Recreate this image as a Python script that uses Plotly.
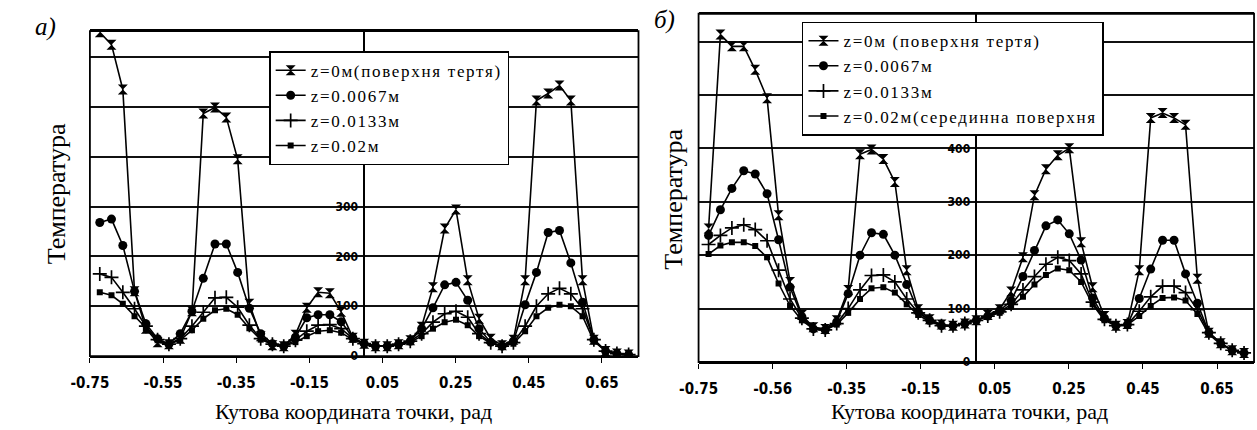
import plotly.graph_objects as go

W, H = 1257, 430

# angular coordinate of the points, rad
x_rad = [-0.723, -0.691, -0.660, -0.628, -0.597, -0.565, -0.534, -0.503, -0.471, -0.440,
         -0.408, -0.377, -0.346, -0.314, -0.283, -0.251, -0.220, -0.188, -0.157, -0.126,
         -0.094, -0.063, -0.031, 0.000, 0.031, 0.063, 0.094, 0.126, 0.157, 0.188,
         0.220, 0.251, 0.283, 0.314, 0.346, 0.377, 0.408, 0.440, 0.471, 0.503,
         0.534, 0.565, 0.597, 0.628, 0.660, 0.691, 0.723]

# chart а)
a_z0 = [650, 625, 535, 130, 55, 28, 24, 35, 90, 487, 499, 479, 395, 105, 40, 22, 20, 43, 97, 128,
        126, 89, 37, 25, 20, 20, 24, 32, 59, 138, 256, 294, 152, 75, 35, 22, 33, 152, 513, 527,
        543, 513, 152, 33, 10, 5, 3]
a_z1 = [268, 275, 222, 130, 65, 35, 24, 45, 90, 156, 225, 225, 168, 96, 45, 25, 20, 38, 77, 83,
        83, 69, 37, 25, 20, 20, 24, 30, 55, 97, 143, 148, 112, 55, 28, 20, 30, 103, 168, 248,
        252, 187, 108, 33, 10, 5, 3]
a_z2 = [165, 158, 128, 95, 60, 33, 24, 35, 60, 88, 117, 118, 98, 62, 35, 24, 20, 32, 50, 62,
        63, 55, 35, 25, 20, 20, 24, 30, 45, 68, 85, 90, 78, 45, 27, 20, 27, 60, 100, 125,
        136, 125, 95, 33, 10, 5, 3]
a_z3 = [128, 122, 105, 80, 55, 32, 24, 32, 52, 75, 92, 95, 83, 56, 33, 24, 20, 28, 40, 50,
        52, 47, 33, 25, 20, 20, 23, 28, 40, 55, 68, 73, 62, 40, 26, 20, 25, 50, 80, 97,
        103, 100, 80, 30, 10, 5, 3]

# chart б)
b_z0 = [250, 613, 591, 591, 547, 494, 275, 150, 88, 65, 62, 78, 135, 389, 398, 380, 337, 172, 99, 80,
        70, 68, 72, 78, 88, 99, 132, 196, 312, 361, 387, 400, 224, 140, 86, 68, 71, 172, 457, 466,
        457, 444, 156, 55, 35, 22, 17]
b_z1 = [237, 285, 325, 358, 352, 315, 229, 140, 85, 62, 60, 75, 128, 200, 242, 239, 200, 145, 95, 78,
        68, 68, 72, 78, 86, 96, 115, 160, 209, 255, 266, 240, 191, 120, 82, 68, 70, 119, 174, 228,
        228, 165, 110, 55, 35, 22, 17]
b_z2 = [220, 237, 251, 257, 248, 227, 172, 118, 82, 62, 60, 72, 100, 135, 162, 163, 150, 118, 92, 78,
        68, 68, 72, 78, 86, 94, 108, 135, 160, 183, 196, 190, 165, 112, 80, 68, 70, 95, 122, 142,
        142, 130, 98, 55, 35, 22, 17]
b_z3 = [202, 218, 224, 224, 217, 196, 147, 105, 78, 62, 60, 70, 92, 118, 138, 140, 130, 108, 88, 76,
        68, 68, 72, 78, 85, 92, 104, 122, 145, 163, 175, 172, 150, 108, 78, 68, 70, 86, 105, 120,
        121, 115, 90, 52, 33, 22, 17]

names_a = ["z=0м(поверхня тертя)", "z=0.0067м", "z=0.0133м", "z=0.02м"]
names_b = ["z=0м (поверхня тертя)", "z=0.0067м", "z=0.0133м", "z=0.02м(серединна поверхня"]

x_tickvals = [-0.75, -0.55, -0.35, -0.15, 0.05, 0.25, 0.45, 0.65]
x_ticktext_a = ["-0.75", "-0.55", "-0.35", "-0.15", "0.05", "0.25", "0.45", "0.65"]
x_ticktext_b = ["-0.75", "-0.56", "-0.35", "-0.15", "0.05", "0.25", "0.45", "0.65"]
y_tickvals = [0, 100, 200, 300, 400, 500, 600]
# labels 500 and 600 sit under the legend boxes in the reference (hidden)
y_ticktext_a = ["0", "100", "200", "300", "400", "", ""]
y_ticktext_b = ["0", "100", "200", "300", "400", "", ""]

x_title = "Кутова координата точки, рад"
y_title = "Температура"

markers = [
    dict(symbol="hourglass", size=10),
    dict(symbol="circle", size=9),
    dict(symbol="cross-thin", size=10, line=dict(width=1.7, color="black")),
    dict(symbol="square", size=6),
]

def spaced(t):
    return '<span style="letter-spacing:1.7px">' + t + '</span>'

fig = go.Figure()
for ys, nm, mk in zip([a_z0, a_z1, a_z2, a_z3], names_a, markers):
    fig.add_trace(go.Scatter(x=x_rad, y=ys, name=spaced(nm), mode="lines+markers",
                             line=dict(color="black", width=1.6),
                             marker=dict(color="black", **mk),
                             xaxis="x", yaxis="y", legend="legend"))
for ys, nm, mk in zip([b_z0, b_z1, b_z2, b_z3], names_b, markers):
    fig.add_trace(go.Scatter(x=x_rad, y=ys, name=spaced(nm), mode="lines+markers",
                             line=dict(color="black", width=1.6),
                             marker=dict(color="black", **mk),
                             xaxis="x2", yaxis="y2", legend="legend2"))

narrow = "Liberation Sans Narrow, DejaVu Sans Condensed, Liberation Sans"
tick_font_x = dict(family=narrow, size=15, color="black", weight="bold")
tick_font_y = dict(family=narrow, size=12, color="black", weight="bold")
serif = "Liberation Serif, Times New Roman, serif"

xa_dom = [72 / W, 629 / W]
xb_dom = [690 / W, 1254 / W]
ya_dom = [1 - 362 / H, 1 - 31.7 / H]
yb_dom = [1 - 368 / H, 1 - 14 / H]

def xaxis(dom, anchor, ticktext):
    return dict(domain=dom, anchor=anchor, range=[-0.75, 0.75], tickvals=x_tickvals, ticktext=ticktext,
                showgrid=False, zeroline=False, showline=True, mirror=True, linecolor="black", linewidth=1.8,
                ticks="outside", ticklen=5, tickcolor="black", tickfont=tick_font_x, ticklabelstandoff=7)

def yaxis(dom, pos, ticktext):
    return dict(domain=dom, anchor="free", position=pos, range=[0, 652], tickvals=y_tickvals,
                ticktext=ticktext,
                showgrid=True, gridcolor="#111", gridwidth=1.5, zeroline=False,
                showline=True, linecolor="black", linewidth=1.5, ticks="", tickfont=tick_font_y,
                ticklabelstandoff=3)

leg = dict(xanchor="left", yanchor="top", bgcolor="white", bordercolor="black", borderwidth=1.5,
           font=dict(family=serif, size=17, color="black"), itemwidth=30, tracegroupgap=0)

fig.update_layout(
    width=W, height=H, autosize=False,
    margin=dict(l=0, r=0, t=0, b=0),
    paper_bgcolor="white", plot_bgcolor="white",
    xaxis=xaxis(xa_dom, "y", x_ticktext_a),
    xaxis2=xaxis(xb_dom, "y2", x_ticktext_b),
    yaxis=yaxis(ya_dom, 350.5 / W, y_ticktext_a),
    yaxis2=yaxis(yb_dom, 972 / W, y_ticktext_b),
    legend=dict(x=254 / W, y=1 - 52 / H, **leg),
    legend2=dict(x=795 / W, y=1 - 22 / H, **leg),
    showlegend=True,
)

for xr, yr in [("x domain", "y domain"), ("x2 domain", "y2 domain")]:
    fig.add_shape(type="rect", xref=xr, yref=yr, x0=0, x1=1, y0=0, y1=1,
                  line=dict(color="black", width=1.8), layer="above")

ann = [
    dict(text="<i>а)</i>", x=27 / W, y=1 - 27 / H, size=25),
    dict(text="<i>б)</i>", x=655 / W, y=1 - 20 / H, size=25),
    dict(text=x_title, x=340 / W, y=1 - 418 / H, size=22),
    dict(text=x_title, x=965 / W, y=1 - 418 / H, size=22),
]
for a in ann:
    fig.add_annotation(text=a["text"], x=a["x"], y=a["y"], xref="paper", yref="paper",
                       showarrow=False, xanchor="center", yanchor="middle",
                       font=dict(family=serif, size=a["size"], color="black"))
for xp, yp in [(38, 197), (665, 202)]:
    fig.add_annotation(text=y_title, x=xp / W, y=1 - yp / H, xref="paper", yref="paper",
                       showarrow=False, textangle=-90, xanchor="center", yanchor="middle",
                       font=dict(family=serif, size=26, color="black"))

fig.write_html("out.html", config={"displayModeBar": False},
               post_script="document.body.style.margin='0';")
